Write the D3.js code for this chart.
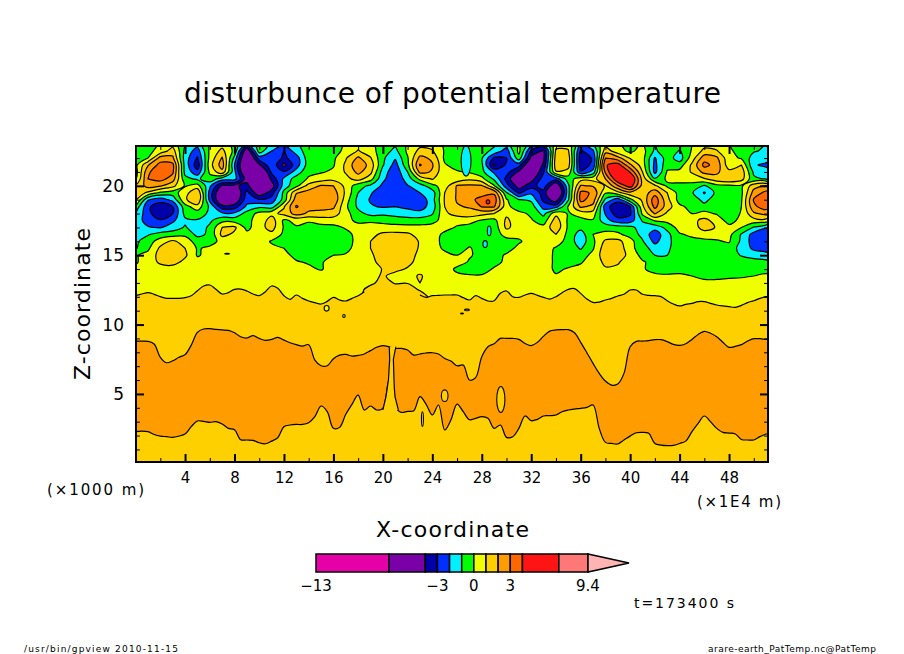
<!DOCTYPE html>
<html>
<head>
<meta charset="utf-8">
<title>disturbunce of potential temperature</title>
<script src="https://cdn.jsdelivr.net/npm/d3@7"></script>
<style>
  html, body { margin: 0; padding: 0; background: #fff; }
  svg { display: block; }
  text { font-family: "DejaVu Sans", sans-serif; fill: #000; }
</style>
</head>
<body>
<svg id="chart" width="904" height="654"></svg>
<script>
// contour levels and the colour of the band sitting above each one
var levels = [-13, -7, -4, -3, -2, -1, 0, 1, 2, 3, 4, 7, 9.4];
var bandColors = ['#e600a8', '#7a00a8', '#0000a8', '#0030ff', '#00f0ff', '#00ff00', '#f0ff00',
                  '#ffd000', '#ff9c00', '#ff6800', '#ff1414', '#ff7878', '#ffb4b4'];
var colorbarLabels = [-13, -3, 0, 3, 9.4];

var xMajorTicks = [4, 8, 12, 16, 20, 24, 28, 32, 36, 40, 44, 48];
var xMinorTicks = [2, 6, 10, 14, 18, 22, 26, 30, 34, 38, 42, 46, 50];
var zMajorTicks = [5, 10, 15, 20];
var zMinorTicks = [1, 2, 3, 4, 6, 7, 8, 9, 11, 12, 13, 14, 16, 17, 18, 19, 21, 22];

// upper field: rows run from z=23 down to z=11 every 0.5, columns x=0..51
var fieldRows = [
  [-0.6,-0.5,0.1,0.6,-1.1,-1.6,0.1,0.6,-0.4,-2.6,-0.5,-1.2,-1.8,-1.2,-0.5,-0.4,-0.4,0.1,0.6,0.2,-0.4,-0.8,0.1,0.7,0.6,-0.2,-0.4,-0.4,-0.5,-0.8,-1.5,0.1,-1.6,-2.4,0.6,0.6,-2,-0.9,0.6,0.1,-0.3,0.1,-1,-0.4,-0.4,0,0.6,0.5,0,-0.3,-0.7,-1],
  [-0.5,-0.3,0.4,1.5,-1.3,-2.5,0.2,1.3,-0.3,-5,-0.5,-2,-3,-1.5,-0.5,-0.3,-0.3,0.2,1.1,0.4,-0.5,-1.3,0.2,1.3,1.1,-0.1,-0.4,-0.7,-0.6,-1.3,-2.5,0.3,-3.2,-4.2,1.2,1.1,-3.2,-2.2,1.6,0.4,-0.2,0.4,-1.2,-0.3,-1.1,0.1,1.3,1.1,0.1,-0.2,-0.9,-1.2],
  [-0.4,0,2.4,2.2,-1.5,-3.1,0.3,2.1,-1.3,-6,-2.5,-2.2,-3.2,-2.5,-0.4,-0.3,-0.2,0.9,2.2,1.1,-0.8,-1.9,-0.1,2.3,1.8,-0.2,-0.4,-0.8,-0.9,-3.2,-3,-0.4,-4.3,-4.2,1.5,1.5,-3.6,-2.9,3,2.4,0.9,0.4,-2.1,-0.5,-1.5,0.5,2.6,2.2,0.3,-0.1,-1.5,-1.6],
  [-0.3,1.9,3.4,3.3,-1.4,-3.6,0.6,2.5,-2,-6.5,-4.2,-2.2,-4.3,-2.5,-0.5,-0.3,-0.1,1.2,2.8,1.6,-0.9,-2.4,-0.3,3.1,2.1,0.1,-0.4,-0.7,-0.8,-4.2,-2.8,-2.6,-5.5,-3.8,1.6,1.4,-3.5,-2.8,3.9,4.5,2.2,0.5,-2.3,-0.3,-0.5,1.2,3.3,2.6,0.4,1,-1.9,-2.2],
  [-0.5,2.8,3.8,3.2,-1.3,-2.7,0.2,1.7,-1.7,-6,-6,-2.8,-2.9,-1.6,-0.2,-0.1,0.2,1.1,2.3,1.3,-1.5,-2.7,-1,2.3,1.9,0.1,0.1,-0.1,-0.7,-2.2,-2.6,-4.2,-5.5,-3.1,0.9,0.6,-2.9,-1.6,3.2,6,3.9,1,-2.3,0.1,0.3,1.1,2.3,2.2,1.3,1.6,-1.2,-1.6],
  [-0.2,3,3.4,2.5,-0.7,-1.2,-0.4,-1.5,-1.6,-4.6,-6.5,-3.7,-1.8,-0.5,0.1,0.5,0.7,0.7,1.4,0.4,-1.8,-2.7,-1.6,0.3,1.1,0.1,0.3,0.8,0.3,-1.2,-3.3,-5.5,-4.5,-2.5,-2.5,-0.5,0.6,0.6,2,5,5.5,1.6,-0.9,0.2,0.4,0.5,0.9,1.6,1.9,1.4,-0.8,-1.1],
  [1.1,2.4,2.1,1.3,-0.1,0.4,-1.8,-4.2,-4.3,-3.5,-6.5,-4.6,-1.5,-0.3,1.4,2.1,2,0.7,-0.6,-1.2,-2.2,-2.8,-2.05,-1.5,-0.3,0.5,2.1,2.2,2.1,0.1,-2.6,-4.5,-3.4,-2.5,-5.2,-1.2,2.1,1.9,0.9,2.9,4.6,1.6,1.2,-0.2,-0.3,-0.4,-1.1,-0.3,-0.2,-0.2,1.6,2.1],
  [1.7,0.8,-0.2,-0.5,0.6,1.9,-2.4,-5.5,-5.5,-2.7,-4.8,-3.5,-0.7,1.9,2.4,2.6,2.5,0.8,-1,-1.9,-2.6,-2.9,-2.6,-2,-1.5,1,2.1,2.6,2.3,2.8,-0.9,-3.2,-2.2,-3.4,-6.5,-1.3,3.2,2.9,0.1,0.7,1.7,1.4,2.6,1,-0.4,-0.9,-2.1,-0.7,-0.3,-0.2,2.4,3.3],
  [1.2,-1.9,-2.5,-1.7,0.8,2,-2.3,-5.5,-5,-2.4,-2.9,-2.6,-0.6,2.6,2.5,2.9,2.8,0.5,-1.3,-2.1,-2.7,-2.7,-2.7,-2.7,-1.4,1.1,2.1,2.5,3.6,3.6,0.1,-1,-1.2,-3.3,-4.6,-1.1,3.3,2.5,-1.2,-2.6,-0.3,1.2,3.6,1.3,-0.4,-0.3,-1.4,-0.3,-0.2,-0.1,3.1,3.8],
  [-0.3,-2.8,-3.7,-3,-0.4,0.6,-1.2,-3.6,-3.5,-1.8,-1.2,-1.5,0.9,3.1,2.4,2.3,2.2,0.2,-1.2,-1.9,-2.1,-2,-2.2,-2.4,-1.6,1,1.9,2.1,3.05,3.1,0.3,-0.6,-0.5,-2.4,-2.4,0.1,2.2,1.7,-2.6,-3.7,-3,0.8,3.3,1.5,0.2,-0.3,-0.6,-0.4,-0.3,0,2.8,3.5],
  [-1,-2.7,-3.8,-3,-0.7,-0.5,-1.2,-1.8,-1.8,-0.6,0.3,0.7,1.3,2.4,1.8,1.7,1.5,0.4,-0.7,-1.3,-1.2,-1.4,-1.6,-1.7,-1.1,0.8,1.4,1.6,1.3,1,0.8,0.3,-0.2,-1.3,0.7,-0.1,0.4,0.5,-2.1,-3.6,-3.2,0.2,2.1,0.8,0.1,0,0.3,-0.1,-0.7,0.1,1.8,2.3],
  [-1.4,-2.5,-2.9,-2.2,-1.2,-1.1,-1.2,-0.3,-0.4,-0.2,0.3,1.5,-0.2,0.3,0.1,0.4,0.5,0.4,-0.3,-0.2,-0.3,-0.4,-0.5,-0.5,-0.4,0.5,0.3,0.3,-0.1,-0.3,1.2,0.4,0.1,-0.5,1.5,-0.2,-0.3,-0.1,-1.6,-2.6,-2.5,-0.9,0.1,0.3,0.6,0.7,1.3,0.6,-0.4,0.3,0.6,0.6],
  [-1.3,-1.9,-2.1,-1.5,-0.9,-1.6,-0.8,1,1.2,-0.3,0.6,1.4,-0.1,-0.1,-0.3,-0.3,-0.3,0.1,0.5,0.5,0.4,0.3,0.3,0.3,0.5,0.3,-0.1,-0.3,-0.5,-0.6,1.2,0.5,0.2,0.3,1.7,-0.2,-0.7,-0.2,-0.4,-0.5,-0.7,-1.5,-1.6,-0.7,0.4,0.4,1.5,0.9,0.3,0,-1.1,-1.9],
  [-1.3,-1.1,-0.6,-0.5,-0.2,-1.3,-0.8,1.3,0.8,0.3,0.6,0.7,-0.2,-0.4,-0.3,-0.3,-0.1,-0.3,0.3,0.7,1.2,1.3,1.2,0.6,0.4,-0.2,-0.4,-0.5,-0.5,-0.4,0.3,0.2,0.3,0.3,1,-0.3,-1.5,0,0.3,0.2,-0.4,-1.3,-2.6,-1.3,-0.1,0.2,0.4,0.4,0.3,-1.1,-2.4,-2.9],
  [-1.2,-0.5,0.5,1.2,0.5,-0.4,-0.4,0.3,0.4,0.4,0.5,-0.1,-0.4,-0.6,-0.2,-0.2,-0.4,-0.4,0.3,1,1.6,1.7,1.6,0.9,0.4,-0.3,-0.4,-0.4,-0.5,-0.5,-0.3,-0.1,0.3,0.4,0.5,-0.4,-1.6,-0.2,1.2,1.3,0.4,-0.9,-2.3,-1.3,-0.4,-0.3,-0.2,-0.1,0.1,-1.2,-2.5,-2.9],
  [-1.1,-0.2,1.2,1.4,1,-0.1,0.2,0.4,0.4,0.5,0.5,0.2,0,-0.5,-0.3,-0.3,-0.5,-0.3,0.4,1,1.6,1.7,1.5,0.9,0.5,-0.2,-0.5,0.1,-0.5,-0.6,-0.3,0.2,0.3,0.4,-0.1,-0.4,-1.1,-0.1,1.6,1.7,0.3,-0.5,-1.5,-1.2,-0.4,-0.3,-0.3,-0.2,-0.4,-1.4,-2.2,-2.5],
  [-0.1,0.3,1.4,1.6,1.2,-0.1,0.3,0.4,0.5,0.5,0.6,0.6,0.3,-0.3,-0.3,-0.1,0,0.1,0.4,0.8,1.6,1.7,1.5,0.7,0.5,0.3,0,0.1,-0.3,-0.3,0.1,0.3,0.5,0.5,-0.2,-0.2,-0.5,0.3,1.6,1.7,0.6,-0.3,-1,-1,-0.3,-0.3,-0.2,-0.3,-0.4,-1.1,-1.5,-1.6],
  [-0.1,0.4,1.2,1.4,0.7,0.4,0.4,0.5,0.5,0.5,0.5,0.5,0.3,0.1,-0.1,-0.1,0.4,0.5,0.6,0.6,1.5,1.6,1.3,0.6,0.5,0.4,0.4,-0.1,-0.4,-0.3,0.2,0.5,0.5,0.5,-0.2,-0.4,-0.1,0.5,1.2,1.1,0.5,0.1,-0.3,-0.5,-0.3,-0.2,-0.2,-0.2,-0.3,-0.4,-0.5,-0.7],
  [0.2,0.5,0.5,0.5,0.5,0.5,0.5,0.5,0.5,0.5,0.5,0.5,0.5,0.5,0.2,-0.1,0.5,0.5,0.5,0.6,1.05,1.3,0.9,0.7,0.9,0.5,-0.2,-0.4,-0.4,0.1,0.5,0.5,0.5,0.5,-0.2,0.1,0.3,0.6,0.9,0.8,0.5,0.1,-0.3,-0.3,-0.2,-0.2,-0.2,-0.2,-0.3,-0.3,-0.3,-0.2],
  [0.5,0.5,0.5,0.5,0.5,0.5,0.5,0.5,0.5,0.5,0.5,0.5,0.5,0.5,0.5,0.5,0.5,0.5,0.5,0.6,1.15,0.6,0.7,1.1,0.6,0.4,0.2,0.1,0.1,0.4,0.5,0.5,0.5,0.5,0.1,0.3,0.5,0.5,0.5,0.5,0.5,0.4,0.2,0.1,0.1,0,-0.1,-0.1,-0.1,-0.1,0,0.1],
  [0.6,0.6,0.6,0.6,0.6,0.6,0.6,0.6,0.6,0.6,0.6,0.6,0.6,0.6,0.6,0.6,0.6,0.6,0.6,0.7,1.5,0.9,0.95,1,0.5,0.6,0.6,0.6,0.6,0.6,0.6,0.6,0.6,0.6,0.6,0.6,0.6,0.6,0.6,0.6,0.6,0.6,0.6,0.6,0.6,0.15,0.1,0.1,0.2,0.3,0.4,0.5],
  [0.5,0.5,0.5,0.5,0.5,0.5,0.5,0.5,0.5,0.5,0.5,0.5,0.5,0.5,0.5,0.5,0.5,0.5,0.5,1.6,1.7,1.7,1.6,0.9,0.5,0.5,0.5,0.5,0.5,0.5,0.5,0.5,0.5,0.5,0.5,0.5,0.5,0.5,0.5,0.5,0.5,0.5,0.5,0.5,0.5,0.5,0.5,0.5,0.5,0.5,0.5,0.5],
  [0.5,0.5,0.5,0.5,0.5,0.5,0.5,0.5,0.5,0.5,0.5,0.5,0.5,0.5,0.5,0.5,0.5,0.5,0.5,1.8,1.8,1.8,1.8,1.8,0.5,0.5,0.5,0.5,0.5,0.5,0.5,0.5,0.5,0.5,0.5,0.5,0.5,0.5,0.5,0.5,0.5,0.5,0.5,0.5,0.5,0.5,0.5,0.5,0.5,0.5,0.5,0.5],
  [0.5,0.5,0.5,0.5,0.5,0.5,0.5,0.5,0.5,0.5,0.5,0.5,0.5,0.5,0.5,0.5,0.5,0.5,0.5,1.8,1.8,1.8,1.8,1.8,0.5,0.5,0.5,0.5,0.5,0.5,0.5,0.5,0.5,0.5,0.5,0.5,0.5,0.5,0.5,0.5,0.5,0.5,0.5,0.5,0.5,0.5,0.5,0.5,0.5,0.5,0.5,0.5],
  [0.5,0.5,0.5,0.5,0.5,0.5,0.5,0.5,0.5,0.5,0.5,0.5,0.5,0.5,0.5,0.5,0.5,0.5,0.5,1.8,1.8,1.8,1.8,1.8,0.5,0.5,0.5,0.5,0.5,0.5,0.5,0.5,0.5,0.5,0.5,0.5,0.5,0.5,0.5,0.5,0.5,0.5,0.5,0.5,0.5,0.5,0.5,0.5,0.5,0.5,0.5,0.5]
];

// height of the level-1 line (yellow/gold) every 0.5 in x; null where the gold plume rises into the field
var goldTop = [12.08,12.2,12.3,12.18,12.01,11.89,11.89,11.89,11.94,12.08,12.44,12.78,12.85,12.54,12.2,12.3,12.54,12.56,12.42,12.2,12.08,12.37,12.78,12.61,12.08,11.82,12.13,11.89,11.7,11.58,11.48,11.67,11.96,11.77,11.7,11.89,12.08,12.37,
  null,null,null,null,null,null,null,null,
  12.13,11.96,12.08,12.1,12.13,12.13,12.13,11.94,11.77,12.08,11.89,11.7,11.72,12.25,12.42,12.01,11.96,12.13,12.25,12.1,11.96,11.84,12.01,12.3,12.54,12.59,12.25,11.84,11.6,11.62,11.77,11.89,12.06,12.18,12.49,12.49,12.18,12.1,12.08,12.01,11.72,11.48,11.34,11.46,11.53,11.65,11.65,11.53,11.41,11.34,11.29,11.24,11.38,11.58,11.72,11.89,12.01,12.01];

// height of the level-2 lines (gold/orange) every 0.5 in x
var orangeTop = [8.81,8.81,8.79,8.6,7.64,7.25,7.39,7.64,7.83,8.52,9.44,9.68,9.7,9.65,9.61,9.58,9.41,9.12,9.03,9.2,9,8.86,8.93,9.08,8.88,8.69,8.55,8.45,8.55,7.44,7.03,7.03,7.54,7.8,7.85,7.73,7.78,7.88,8.12,8.36,8.48,8.4,8.28,8.28,8.16,7.8,7.88,7.95,7.97,7.88,7.56,7.37,7.03,7.08,6,6.17,7.68,8.4,8.62,9,9,9,8.93,8.64,8.48,8.72,9.17,9.53,9.61,9.63,9.63,9.41,8.72,7.97,7.2,6.48,5.93,5.64,5.71,6.48,8.4,8.79,8.81,8.84,8.91,8.91,8.77,8.57,8.5,8.62,8.93,9.29,9.51,9.37,9.12,8.72,8.36,8.43,8.55,8.81,8.98,8.98,8.93,8.93];
var orangeBottom = [2.28,2.32,2.28,2.08,1.96,1.92,1.87,1.96,2.11,2.64,3.05,3.02,2.95,3,2.83,2.52,2.42,1.7,1.68,1.65,1.48,1.41,1.6,1.84,2.64,2.76,2.8,2.8,2.93,3.36,4.13,3.72,2.52,2.59,3.53,4.25,4.92,3.84,4.13,3.84,3.96,6,4.08,3.67,3.74,3.79,4.8,4.25,3.48,4.2,2.4,3.12,4.27,3.72,3.14,3.24,3.36,3.24,2.52,2.76,1.87,1.92,2.52,3.41,3.07,3.17,3.41,3.43,3.48,3.72,3.84,3.91,3.96,4.03,4.2,2.52,1.51,1.43,1.39,1.68,1.96,2.2,2.23,2.16,1.43,1.31,1.27,1.29,1.43,1.6,2.28,2.88,3.41,3,2.52,2.23,2.18,2.11,1.72,1.68,1.68,1.92,2.11,2.2];

// the narrow gold slit that splits the orange band near x=20.5
var slitZ = [8.4, 7.5, 6, 5.4, 4.8, 3.85];
var slitLeft = [20.52, 20.55, 20.45, 20.35, 20.25, 20];
var slitRight = [21.05, 20.85, 20.9, 20.93, 20.98, 21.25];

// small closed contours: x, z, half width, half height, value inside
var specks = [
  [25.0, 4.87, 0.27, 0.42, 1.5],
  [29.54, 4.6, 0.33, 0.94, 1.5],
  [23.2, 3.19, 0.08, 0.53, 1.5],
  [15.45, 11.17, 0.2, 0.2, 0.5],
  [16.85, 10.62, 0.1, 0.1, 0.5],
  [26.8, 11.05, 0.2, 0.06, 0.5],
  [26.4, 10.8, 0.12, 0.03, 0.5],
  [7.4, 15.1, 0.2, 0.03, 1.5],
  [28.6, 16.75, 0.15, 0.35, -1.5],
  [28.27, 15.8, 0.18, 0.25, -1.5],
  [26.73, 21.8, 0.4, 1.1, -1.5],
  [28.5, 18.85, 0.15, 0.15, 5]
];

function main() {

var svg = d3.select('#chart');
var plotLeft = 136, plotRight = 768, plotTop = 146, plotBottom = 462;
var plotW = plotRight - plotLeft, plotH = plotBottom - plotTop;

var x = d3.scaleLinear().domain([0, 51.15]).range([135.6, 768]);
var z = d3.scaleLinear().domain([0, 22.87]).range([463.3, 146]);
var bandColor = d3.scaleThreshold().domain(levels.slice(1)).range(bandColors);

svg.append('defs').append('clipPath').attr('id', 'plot')
  .append('rect').attr('x', plotLeft).attr('y', plotTop).attr('width', plotW).attr('height', plotH);

var plot = svg.append('g').attr('clip-path', 'url(#plot)');

plot.append('rect').attr('x', plotLeft).attr('y', plotTop).attr('width', plotW).attr('height', plotH)
  .attr('fill', bandColor(1.5));

/* upper field */
var nCols = fieldRows[0].length, nRows = fieldRows.length;
var values = d3.merge(fieldRows);
if (values.length !== nCols * nRows) throw new Error('bad field size');

var contours = d3.contours().size([nCols, nRows]).smooth(true);

// rings go through a closed curve so the coarse grid does not leave diamond shapes
var ringLine = d3.line()
  .x(function (p) { return x(p[0] - 0.5); })
  .y(function (p) { return z(23 - 0.5 * (p[1] - 0.5)); })
  .curve(d3.curveCatmullRomClosed.alpha(0.5));

function ringsPath(geometry) {
  return geometry.coordinates.map(function (polygon) {
    return polygon.map(function (ring) { return ringLine(ring.slice(0, -1)); }).join('');
  }).join('');
}

levels.forEach(function (level, i) {
  plot.append('path')
    .attr('d', ringsPath(contours.contour(values, level)))
    .attr('fill', bandColors[i])
    .attr('fill-rule', 'evenodd')
    .attr('stroke', '#000')
    .attr('stroke-width', 1.2)
    .attr('stroke-linejoin', 'round');
});

/* lower bands */
function halfStep(d, i) { return x(i * 0.5); }
var bandCurve = d3.curveCatmullRom.alpha(0.5);

plot.append('rect').attr('x', plotLeft).attr('width', plotW)
  .attr('y', z(11.2)).attr('height', plotBottom - z(11.2))
  .attr('fill', bandColor(1.5));

plot.append('path').datum(goldTop)
  .attr('d', d3.area().defined(function (d) { return d !== null; }).curve(bandCurve).x(halfStep).y0(z(0)).y1(function (d) { return z(d); }))
  .attr('fill', bandColor(1.5));

function drawLine(series) {
  plot.append('path').datum(series)
    .attr('d', d3.line().defined(function (d) { return d !== null; }).curve(bandCurve).x(halfStep).y(function (d) { return z(d); }))
    .attr('fill', 'none').attr('stroke', '#000').attr('stroke-width', 1.2);
}
drawLine(goldTop);

plot.append('path').datum(orangeTop)
  .attr('d', d3.area().curve(bandCurve).x(halfStep)
    .y0(function (d, i) { return z(orangeBottom[i]); })
    .y1(function (d) { return z(d); }))
  .attr('fill', bandColor(2.5));
drawLine(orangeTop);
drawLine(orangeBottom);

plot.append('path').datum(slitZ)
  .attr('d', d3.area()
    .x0(function (d, i) { return x(slitLeft[i]); })
    .x1(function (d, i) { return x(slitRight[i]); })
    .y(function (d) { return z(d); }))
  .attr('fill', bandColor(1.5));
[slitLeft, slitRight].forEach(function (edge) {
  plot.append('path').datum(slitZ)
    .attr('d', d3.line().x(function (d, i) { return x(edge[i]); }).y(function (d) { return z(d); }))
    .attr('fill', 'none').attr('stroke', '#000').attr('stroke-width', 1.2);
});

plot.selectAll('ellipse').data(specks).enter().append('ellipse')
  .attr('cx', function (d) { return x(d[0]); })
  .attr('cy', function (d) { return z(d[1]); })
  .attr('rx', function (d) { return x(d[2]) - x(0); })
  .attr('ry', function (d) { return z(0) - z(d[3]); })
  .attr('fill', function (d) { return bandColor(d[4]); })
  .attr('stroke', '#000').attr('stroke-width', 1.1);

/* axes, ticks point into the plot */
function addAxis(axis, tx, ty, kind) {
  var g = svg.append('g').attr('transform', 'translate(' + tx + ',' + ty + ')').call(axis);
  g.select('.domain').remove();
  g.selectAll('line').attr('stroke', '#000').attr('stroke-width', kind === 'minor' ? 1 : 2);
  return g;
}

var noLabel = function () { return ''; };

var xBottom = addAxis(d3.axisBottom(x).tickValues(xMajorTicks).tickSize(-8).tickPadding(10).tickFormat(d3.format('d')), 0, plotBottom);
xBottom.selectAll('text').attr('font-family', 'DejaVu Sans').attr('font-size', 15);
addAxis(d3.axisBottom(x).tickValues(xMinorTicks).tickSize(-4).tickFormat(noLabel), 0, plotBottom, 'minor');
addAxis(d3.axisTop(x).tickValues(xMajorTicks).tickSize(-8).tickFormat(noLabel), 0, plotTop);
addAxis(d3.axisTop(x).tickValues(xMinorTicks).tickSize(-4).tickFormat(noLabel), 0, plotTop, 'minor');

var zLeft = addAxis(d3.axisLeft(z).tickValues(zMajorTicks).tickSize(-8).tickPadding(12).tickFormat(d3.format('d')), plotLeft, 0);
zLeft.selectAll('text').attr('font-family', 'DejaVu Sans').attr('font-size', 17);
addAxis(d3.axisLeft(z).tickValues(zMinorTicks).tickSize(-4).tickFormat(noLabel), plotLeft, 0, 'minor');
addAxis(d3.axisRight(z).tickValues(zMajorTicks).tickSize(-8).tickFormat(noLabel), plotRight, 0);
addAxis(d3.axisRight(z).tickValues(zMinorTicks).tickSize(-4).tickFormat(noLabel), plotRight, 0, 'minor');

svg.append('rect').attr('x', plotLeft).attr('y', plotTop).attr('width', plotW).attr('height', plotH)
  .attr('fill', 'none').attr('stroke', '#000').attr('stroke-width', 2);

/* colour bar */
var cb = d3.scaleLinear().domain([-13, 9.4]).range([316, 588]);
var cbTop = 554, cbBottom = 572;
var cbBands = d3.pairs(levels);
svg.selectAll('rect.band').data(cbBands).enter().append('rect')
  .attr('class', 'band')
  .attr('x', function (d) { return cb(d[0]); })
  .attr('y', cbTop)
  .attr('width', function (d) { return cb(d[1]) - cb(d[0]); })
  .attr('height', cbBottom - cbTop)
  .attr('fill', function (d, i) { return bandColors[i]; })
  .attr('stroke', '#000').attr('stroke-width', 1.5);
svg.append('path')
  .attr('d', 'M' + cb(9.4) + ',' + cbTop + 'L' + (cb(9.4) + 41) + ',' + ((cbTop + cbBottom) / 2) + 'L' + cb(9.4) + ',' + cbBottom + 'Z')
  .attr('fill', bandColors[12]).attr('stroke', '#000').attr('stroke-width', 1.5);

svg.selectAll('text.cb').data(colorbarLabels).enter().append('text')
  .attr('class', 'cb')
  .attr('x', function (d) { return cb(d); })
  .attr('y', 591)
  .attr('text-anchor', 'middle')
  .attr('font-size', 15)
  .text(function (d) { return String(d).replace('-', '\u2212'); });

/* labels */
function label(text, px, py, size, width, anchor) {
  return svg.append('text').attr('x', px).attr('y', py)
    .attr('font-size', size)
    .attr('text-anchor', anchor || 'start')
    .attr('textLength', width)
    .attr('lengthAdjust', 'spacing')
    .text(text);
}

label('disturbunce of potential temperature', 184, 103, 28, 537);
label('X-coordinate', 376, 537, 22, 153);
label('(\u00d71000 m)', 47, 495, 15, 97);
label('(\u00d71E4 m)', 697, 507, 15, 84);
label('t=173400 s', 634, 608, 14, 100);
label('/usr/bin/gpview   2010-11-15', 24, 652, 9, 154);
label('arare-earth_PatTemp.nc@PatTemp', 708, 652, 9, 168);

svg.append('text')
  .attr('transform', 'translate(90,380) rotate(-90)')
  .attr('font-size', 22)
  .attr('textLength', 152)
  .attr('lengthAdjust', 'spacing')
  .text('Z-coordinate');
}
main();
</script>
</body>
</html>
